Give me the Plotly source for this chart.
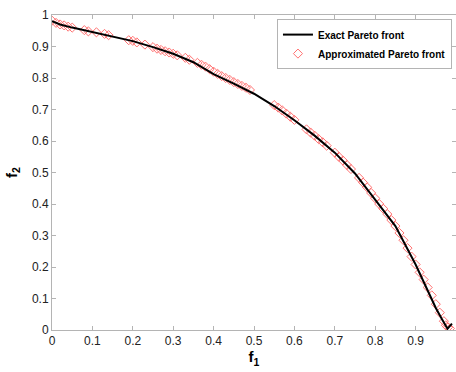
import plotly.graph_objects as go

# Exact Pareto front
exact_f1 = [0.0, 0.02, 0.05, 0.1, 0.15, 0.2, 0.25, 0.3, 0.35, 0.4, 0.45, 0.5, 0.55,
            0.6, 0.65, 0.7, 0.75, 0.8, 0.85, 0.9, 0.925, 0.95, 0.965, 0.979, 0.99]
exact_f2 = [0.98, 0.970, 0.960, 0.945, 0.932, 0.917, 0.898, 0.877, 0.850, 0.812, 0.782, 0.750, 0.711,
            0.666, 0.617, 0.563, 0.497, 0.415, 0.330, 0.208, 0.138, 0.070, 0.035, 0.004, 0.02]

# Approximated Pareto front (sampled solutions)
approx_f1 = [0.0, 0.01, 0.02, 0.03, 0.04, 0.05, 0.08, 0.09, 0.11, 0.13, 0.14, 0.19, 0.2, 0.21,
             0.23, 0.25, 0.26, 0.27, 0.28, 0.29, 0.3, 0.31, 0.33, 0.34, 0.36, 0.37, 0.38, 0.39,
             0.40, 0.41, 0.42, 0.43, 0.44, 0.45, 0.46, 0.47, 0.48, 0.49, 0.55, 0.56, 0.57, 0.58,
             0.59, 0.60, 0.63, 0.64, 0.65, 0.66, 0.67, 0.68, 0.70, 0.71, 0.72, 0.73, 0.74, 0.76,
             0.77, 0.78, 0.79, 0.80, 0.81, 0.82, 0.83, 0.84, 0.85, 0.86, 0.87, 0.88, 0.89, 0.90,
             0.91, 0.92, 0.93, 0.94, 0.95, 0.96, 0.97, 0.975, 0.98, 0.985]
approx_f2 = [0.982, 0.975, 0.970, 0.967, 0.963, 0.960, 0.952, 0.948, 0.945, 0.940, 0.936, 0.920, 0.918,
             0.913, 0.906, 0.898, 0.893, 0.889, 0.885, 0.881, 0.877, 0.872, 0.864, 0.858, 0.848, 0.842,
             0.836, 0.828, 0.820, 0.813, 0.806, 0.800, 0.794, 0.787, 0.781, 0.775, 0.769, 0.762, 0.714,
             0.706, 0.697, 0.687, 0.677, 0.667, 0.637, 0.627, 0.617, 0.606, 0.596, 0.585, 0.563, 0.550,
             0.538, 0.524, 0.511, 0.483, 0.468, 0.453, 0.435, 0.418, 0.400, 0.385, 0.368, 0.349, 0.330,
             0.308, 0.285, 0.260, 0.233, 0.208, 0.183, 0.160, 0.135, 0.110, 0.082, 0.055, 0.028, 0.015,
             0.008, 0.005]

axis_color = "#b4b4b4"
font_family = "Liberation Sans, Arial, sans-serif"

fig = go.Figure()
fig.add_trace(go.Scatter(
    x=approx_f1, y=approx_f2, mode="markers", name="Approximated Pareto front",
    marker=dict(symbol="diamond-open", size=7, color="#ff7272", line=dict(width=1)),
))
fig.add_trace(go.Scatter(
    x=exact_f1, y=exact_f2, mode="lines", name="Exact Pareto front",
    line=dict(color="black", width=2),
))

axis_common = dict(
    showgrid=False, zeroline=False, showline=True, linecolor=axis_color, linewidth=1,
    mirror="ticks", ticks="inside", ticklen=4, tickcolor=axis_color,
    tickfont=dict(family=font_family, size=12, color="#222222"),
    dtick=0.1, tick0=0,
)

fig.update_layout(
    width=456, height=372,
    margin=dict(l=52, r=0, t=15, b=42),
    plot_bgcolor="white", paper_bgcolor="white",
    showlegend=True,
    legend=dict(
        x=0.99, y=0.987, xanchor="right", yanchor="top",
        traceorder="reversed",
        bgcolor="white", bordercolor=axis_color, borderwidth=1,
        font=dict(family=font_family, size=10, color="black", weight="bold"),
        tracegroupgap=0, itemwidth=30,
    ),
    xaxis=dict(range=[0, 1], title=dict(text="<b>f<sub>1</sub></b>", standoff=4,
               font=dict(family=font_family, size=15, color="black")), **axis_common),
    yaxis=dict(range=[0, 1], title=dict(text="<b>f<sub>2</sub></b>", standoff=10,
               font=dict(family=font_family, size=15, color="black")), **axis_common),
)

fig.write_html("out.html")
